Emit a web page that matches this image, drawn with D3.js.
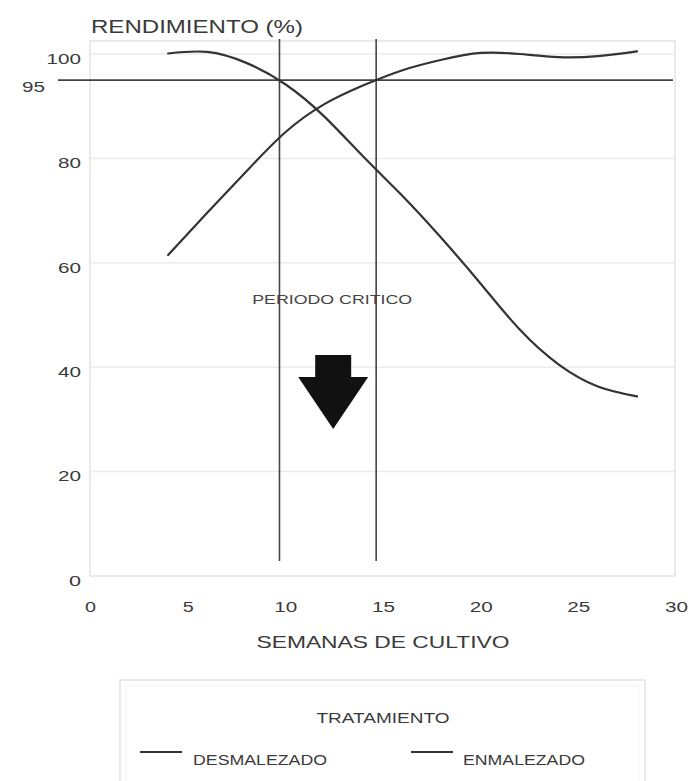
<!DOCTYPE html>
<html>
<head>
<meta charset="utf-8">
<script src="https://cdn.jsdelivr.net/npm/d3@7"></script>
<style>
  html, body { margin: 0; padding: 0; background: #fff; }
  svg { display: block; font-family: "Liberation Sans", Arial, sans-serif; }
</style>
</head>
<body>
<svg id="chart" width="689" height="781"></svg>
<script>
// ---- data ----
const weeks = [4, 6, 8, 10, 12, 14, 16, 18, 20, 22, 24, 26, 28];
const desmalezado = [61.5, 69.6, 77.5, 85.0, 90.4, 94.0, 96.9, 98.9, 100.2, 100.0, 99.4, 99.6, 100.5];
const enmalezado  = [100.1, 100.4, 98.3, 94.2, 88.0, 80.3, 72.8, 64.7, 56.0, 47.2, 40.5, 36.3, 34.4];
const xTicks = [0, 5, 10, 15, 20, 25, 30];
const yTicks = [0, 20, 40, 60, 80, 100];
const thresholdValue = 95;
const criticalWeeks = [9.7, 14.65];
const arrowCenterWeek = 12.45;
const labels = {
  title: "RENDIMIENTO (%)",
  xTitle: "SEMANAS DE CULTIVO",
  critical: "PERIODO CRITICO",
  legendTitle: "TRATAMIENTO",
  series: ["DESMALEZADO", "ENMALEZADO"]
};

// ---- layout ----
const svg = d3.select("#chart");
const x = d3.scaleLinear().domain([0, 30]).range([90, 676]);
const y = d3.scaleLinear().domain([0, 100]).range([576, 54]);
const frame = { left: 90, right: 675, top: 41, bottom: 576 };
const ink = "#333";
const txt = "#3a3a3a";

// frame
svg.append("rect")
  .attr("x", frame.left).attr("y", frame.top)
  .attr("width", frame.right - frame.left).attr("height", frame.bottom - frame.top)
  .attr("fill", "none").attr("stroke", "#e4e4e4").attr("stroke-width", 1.5);

// gridlines
svg.append("g").selectAll("line").data(yTicks.filter(d => d > 0)).join("line")
  .attr("x1", frame.left).attr("x2", frame.right)
  .attr("y1", d => y(d)).attr("y2", d => y(d))
  .attr("stroke", "#ebebeb").attr("stroke-width", 1.5);

// y axis
const yAxis = svg.append("g").attr("transform", "translate(81,0)")
  .call(d3.axisLeft(y).tickValues(yTicks).tickSize(0).tickPadding(0));
yAxis.select(".domain").remove();
yAxis.selectAll("text")
  .attr("x", 0).attr("y", 4).attr("dy", "0.35em")
  .attr("text-anchor", "end")
  .attr("font-size", 15).attr("fill", txt)
  .attr("font-family", "'Liberation Sans', Arial, sans-serif")
  .attr("textLength", d => String(d).length === 1 ? 12 : String(d).length * 11.5)
  .attr("lengthAdjust", "spacingAndGlyphs");

// x axis
const xAxis = svg.append("g").attr("transform", "translate(0,607)")
  .call(d3.axisBottom(x).tickValues(xTicks).tickSize(0).tickPadding(0));
xAxis.select(".domain").remove();
xAxis.selectAll("text")
  .attr("y", 0).attr("dy", "0.35em")
  .attr("font-size", 15).attr("fill", txt)
  .attr("font-family", "'Liberation Sans', Arial, sans-serif")
  .attr("textLength", d => String(d).length === 1 ? 11 : 23)
  .attr("lengthAdjust", "spacingAndGlyphs");

// 95 threshold line + label
svg.append("line")
  .attr("x1", 58).attr("x2", 673)
  .attr("y1", y(thresholdValue)).attr("y2", y(thresholdValue))
  .attr("stroke", "#444").attr("stroke-width", 1.6);
svg.append("text")
  .attr("x", 45).attr("y", y(thresholdValue) + 7).attr("dy", "0.35em")
  .attr("text-anchor", "end").attr("font-size", 15).attr("fill", txt)
  .attr("textLength", 23).attr("lengthAdjust", "spacingAndGlyphs")
  .text(thresholdValue);

// critical period vertical lines
svg.append("g").selectAll("line").data(criticalWeeks).join("line")
  .attr("x1", d => x(d)).attr("x2", d => x(d))
  .attr("y1", 39).attr("y2", 561)
  .attr("stroke", "#444").attr("stroke-width", 1.6);

// curves
const line = d3.line()
  .x(d => x(d[0])).y(d => y(d[1]))
  .curve(d3.curveNatural);
[desmalezado, enmalezado].forEach(vals => {
  svg.append("path")
    .datum(weeks.map((w, i) => [w, vals[i]]))
    .attr("d", line)
    .attr("fill", "none").attr("stroke", ink).attr("stroke-width", 2.2)
    .attr("stroke-linecap", "round");
});

// periodo critico label
svg.append("text")
  .attr("x", x(arrowCenterWeek) - 1).attr("y", 299).attr("dy", "0.35em")
  .attr("text-anchor", "middle").attr("font-size", 13).attr("fill", "#444")
  .attr("textLength", 160).attr("lengthAdjust", "spacingAndGlyphs")
  .text(labels.critical);

// arrow
const cx = x(arrowCenterWeek);
const arrowPts = [
  [cx - 18, 355], [cx + 18, 355], [cx + 18, 377], [cx + 35, 377],
  [cx, 429], [cx - 35, 377], [cx - 18, 377]
];
svg.append("path")
  .attr("d", d3.line()(arrowPts) + "Z")
  .attr("fill", "#111");

// titles
svg.append("text")
  .attr("x", 91).attr("y", 33)
  .attr("font-size", 18).attr("fill", txt)
  .attr("textLength", 212).attr("lengthAdjust", "spacingAndGlyphs")
  .text(labels.title);
svg.append("text")
  .attr("x", 383).attr("y", 648)
  .attr("text-anchor", "middle")
  .attr("font-size", 17).attr("fill", txt)
  .attr("textLength", 253).attr("lengthAdjust", "spacingAndGlyphs")
  .text(labels.xTitle);

// legend
const lg = svg.append("g");
lg.append("rect").attr("x", 120).attr("y", 680).attr("width", 525).attr("height", 130)
  .attr("fill", "#fff").attr("stroke", "#e2e2e2").attr("stroke-width", 1.5);
lg.append("rect").attr("x", 126).attr("y", 686).attr("width", 513).attr("height", 130)
  .attr("fill", "none").attr("stroke", "#f2f2f2").attr("stroke-width", 1);
lg.append("text")
  .attr("x", 383).attr("y", 718).attr("dy", "0.35em")
  .attr("text-anchor", "middle").attr("font-size", 14).attr("fill", txt)
  .attr("textLength", 133).attr("lengthAdjust", "spacingAndGlyphs")
  .text(labels.legendTitle);
const legendItems = [
  { name: labels.series[0], lx: 140, tx: 193, w: 134 },
  { name: labels.series[1], lx: 411, tx: 463, w: 122 }
];
legendItems.forEach(it => {
  lg.append("line").attr("x1", it.lx).attr("x2", it.lx + 42)
    .attr("y1", 752).attr("y2", 752)
    .attr("stroke", ink).attr("stroke-width", 2.2);
  lg.append("text")
    .attr("x", it.tx).attr("y", 760).attr("dy", "0.35em")
    .attr("font-size", 14).attr("fill", txt)
    .attr("textLength", it.w).attr("lengthAdjust", "spacingAndGlyphs")
    .text(it.name);
});
</script>
</body>
</html>
